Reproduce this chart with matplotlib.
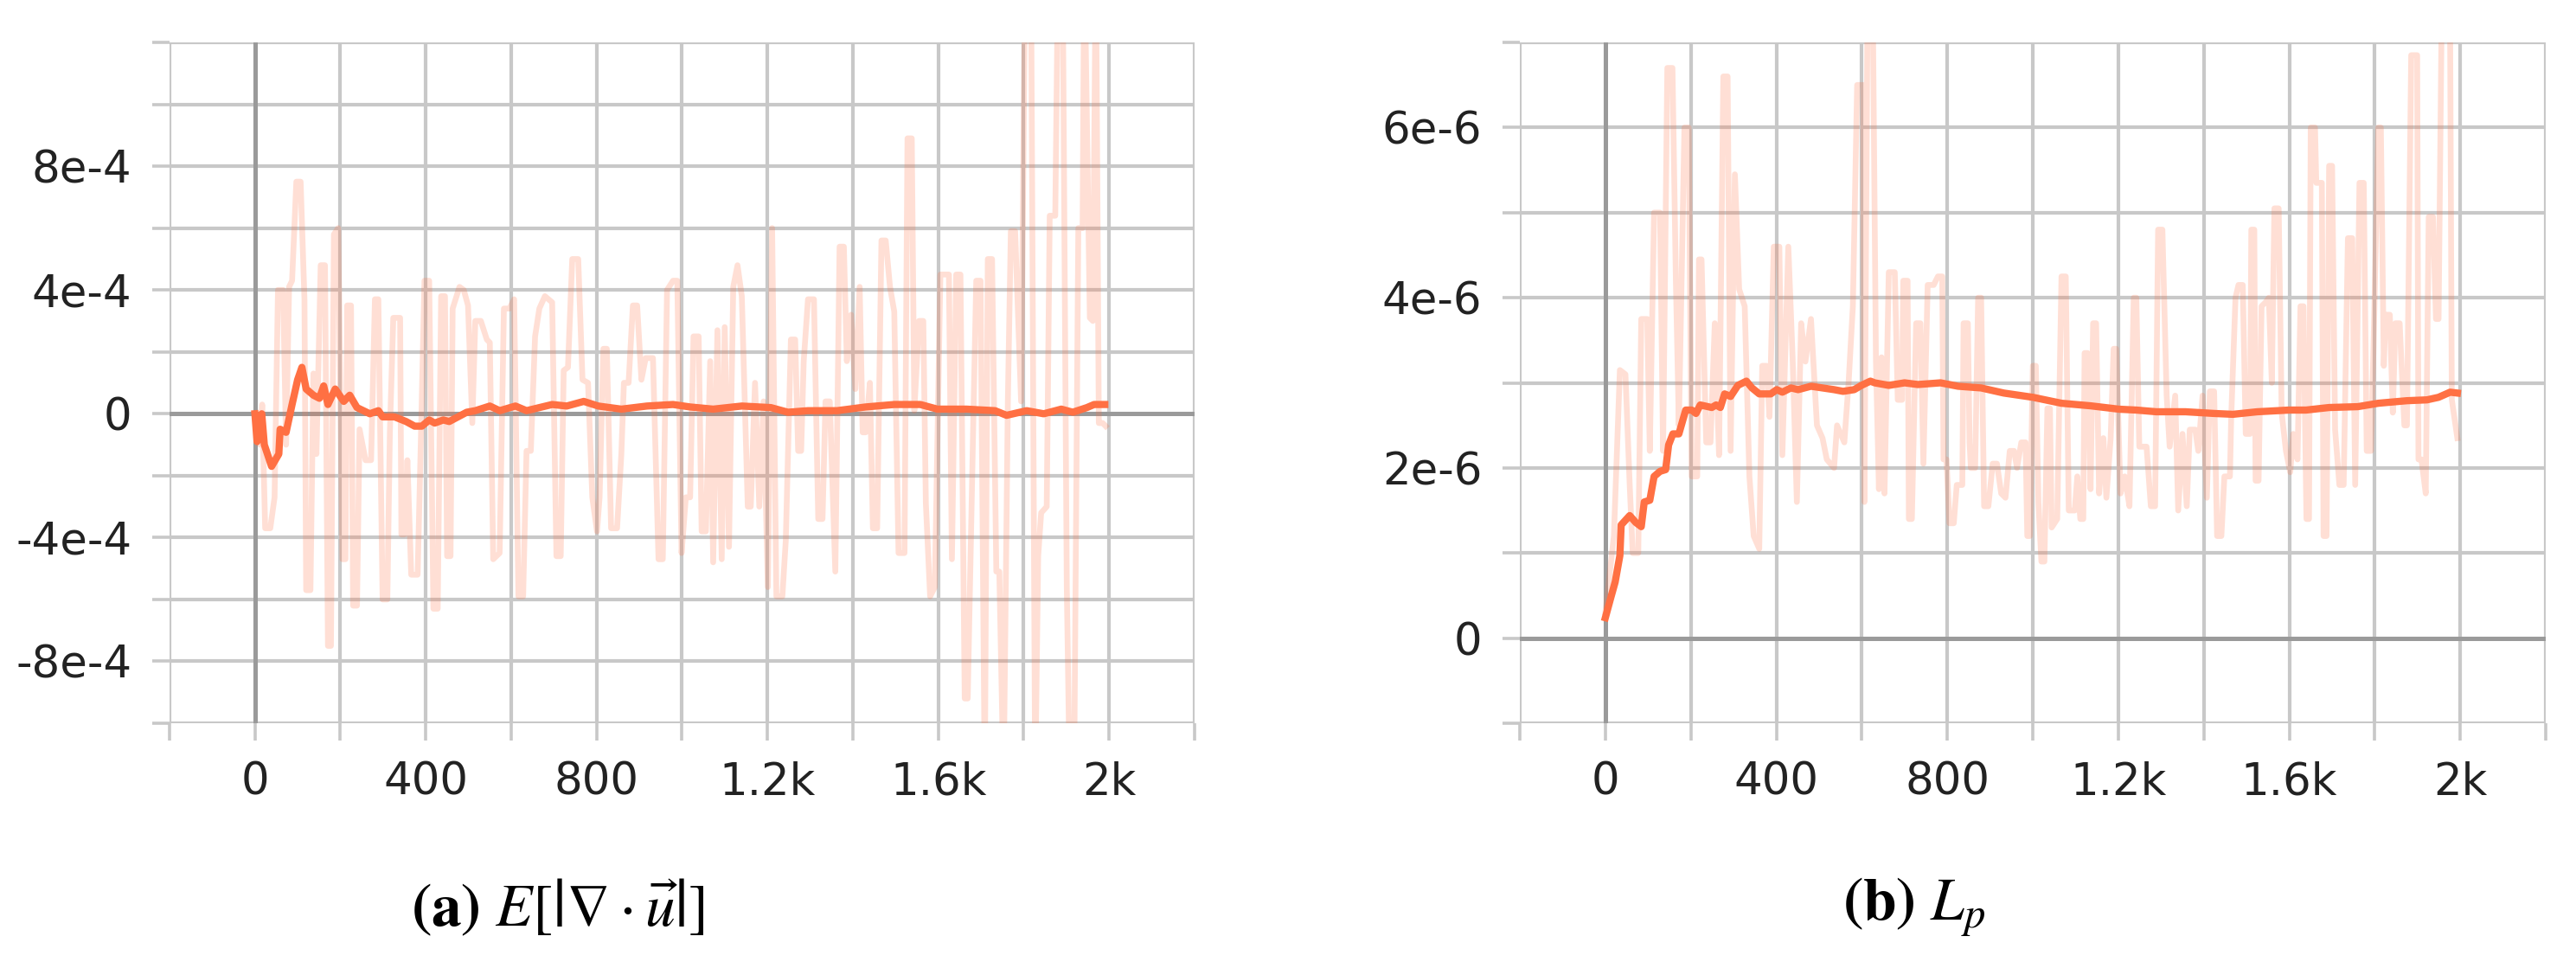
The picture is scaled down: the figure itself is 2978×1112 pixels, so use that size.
import matplotlib
matplotlib.use("Agg")
import matplotlib.pyplot as plt
from matplotlib.ticker import MultipleLocator

plt.rcParams['font.family'] = ['DejaVu Sans']
plt.rcParams['mathtext.fontset'] = 'stix'

# (a) divergence -- values in units of 1e-4
div_raw_steps = [0, 12, 17, 24, 36, 46, 54, 66, 73, 80, 87, 97, 107, 116, 120, 130, 137, 144, 154, 164,
                 171, 178, 185, 195, 205, 212, 216, 225, 230, 239, 245, 259, 272, 281, 289, 299, 310, 316, 324, 340,
                 343, 350, 357, 366, 381, 389, 397, 408, 418, 428, 436, 445, 450, 458, 463, 479, 489, 499, 509, 516,
                 529, 543, 550, 558, 573, 583, 596, 607, 617, 628, 636, 646, 656, 666, 679, 696, 706, 716, 723, 733,
                 743, 757, 767, 780, 790, 801, 807, 816, 824, 834, 848, 858, 864, 875, 885, 895, 905, 915, 932, 945,
                 955, 965, 979, 989, 999, 1009, 1019, 1027, 1039, 1046, 1056, 1066, 1073, 1083, 1093, 1100, 1110, 1120, 1130, 1140,
                 1154, 1161, 1171, 1181, 1191, 1201, 1211, 1221, 1235, 1243, 1255, 1265, 1272, 1279, 1285, 1295, 1309, 1319, 1329, 1336,
                 1346, 1359, 1369, 1379, 1386, 1396, 1406, 1416, 1423, 1430, 1440, 1447, 1457, 1467, 1477, 1487, 1497, 1507, 1521, 1528,
                 1538, 1544, 1555, 1565, 1571, 1581, 1592, 1605, 1625, 1632, 1642, 1652, 1662, 1669, 1682, 1689, 1699, 1709, 1716, 1726,
                 1736, 1743, 1753, 1763, 1770, 1780, 1794, 1804, 1817, 1827, 1834, 1841, 1854, 1861, 1874, 1881, 1891, 1901, 1908, 1918,
                 1928, 1938, 1942, 1955, 1962, 1969, 1976, 1985, 1992]
div_raw_vals = [0, -1.0, 0.3, -3.7, -3.7, -2.7, 4.0, 4.0, -1.0, 4.1, 4.3, 7.5, 7.5, 3.7, -5.7, -5.7, 1.3, -1.3, 4.8, 4.8,
                -7.5, -7.5, 5.8, 6.0, -4.7, -4.7, 3.5, 3.5, -6.2, -6.2, -0.5, -1.5, -1.5, 3.7, 3.7, -6.0, -6.0, -0.6, 3.1, 3.1,
                -3.9, -3.9, -1.5, -5.2, -5.2, -0.6, 4.3, 4.3, -6.3, -6.3, 3.8, 3.8, -4.6, -4.6, 3.4, 4.1, 4.0, 3.5, -0.3, 3.0,
                3.0, 2.4, 2.3, -4.7, -4.5, 3.4, 3.4, 3.7, -5.9, -5.9, -1.2, -1.2, 2.5, 3.4, 3.8, 3.6, -4.6, -4.6, 1.4, 1.5,
                5.0, 5.0, 1.1, 1.0, -2.7, -3.8, -2.7, 2.1, 2.1, -3.7, -3.7, -1.3, 1.0, 1.0, 3.5, 3.5, 1.1, 1.8, 1.8, -4.7,
                -4.7, 4.0, 4.3, 4.3, -4.5, -2.7, -2.7, 2.5, 2.5, -3.8, -3.8, 1.7, -4.8, 2.7, -4.7, 2.8, -4.3, 4.1, 4.8, 3.8,
                -3.0, -3.0, 1.0, -3.0, 0.4, -5.6, 6.0, -5.9, -5.9, -4.1, 2.4, 2.4, -1.2, -1.2, 1.7, 3.7, 3.7, -3.4, -3.4, 0.4,
                0.4, -5.1, 5.4, 5.4, 1.7, 3.2, 0.8, 4.1, -0.6, -0.6, 1.0, -3.7, -3.7, 5.6, 5.6, 4.1, 3.3, -4.5, -4.5, 8.9,
                8.9, 0.1, 3.0, 3.0, -2.9, -5.9, -5.6, 4.5, 4.5, -4.7, 4.5, 4.5, -9.2, -9.2, -0.3, 4.3, 4.3, -12, 5.0, 5.0,
                -5.1, -5.1, -12, 0.4, 5.9, 5.9, 0.4, 15, 15, -12, -4.6, -3.2, -3.0, 6.4, 6.4, 15, 15, -5.6, -12, -12,
                6.0, 6.0, 15, 3.1, 3.0, 15, -0.3, -0.3, -0.4]
div_smooth_steps = [0, 5, 16, 22, 39, 56, 59, 73, 87, 100, 110, 120, 137, 151, 161, 171, 188, 208, 222, 239,
                    269, 289, 299, 327, 354, 374, 391, 408, 421, 441, 455, 496, 516, 550, 573, 610, 636, 696, 730, 770,
                    804, 858, 918, 979, 1019, 1073, 1140, 1208, 1248, 1295, 1363, 1430, 1497, 1558, 1598, 1666, 1733, 1760, 1807, 1847,
                    1888, 1915, 1948, 1965, 1990]
div_smooth_vals = [0, -0.9, 0, -1.0, -1.7, -1.3, -0.5, -0.6, 0.3, 1.1, 1.5, 0.8, 0.6, 0.5, 0.9, 0.3, 0.8, 0.4, 0.6, 0.2,
                   0.0, 0.1, -0.1, -0.1, -0.25, -0.4, -0.4, -0.2, -0.3, -0.2, -0.25, 0.05, 0.1, 0.25, 0.1, 0.25, 0.1, 0.3, 0.25, 0.4,
                   0.25, 0.15, 0.25, 0.3, 0.22, 0.15, 0.25, 0.2, 0.05, 0.1, 0.1, 0.22, 0.3, 0.3, 0.15, 0.15, 0.1, -0.05, 0.1, 0.0,
                   0.15, 0.05, 0.2, 0.3, 0.3]
div_unit = 1e-4

# (b) L_p -- values in units of 1e-6
lp_raw_steps = [0, 20, 34, 47, 57, 64, 77, 84, 98, 104, 114, 128, 135, 145, 157, 165, 172, 185, 195, 202,
                215, 219, 225, 236, 246, 256, 266, 276, 286, 293, 303, 313, 326, 337, 347, 360, 367, 377, 384, 394,
                407, 414, 428, 438, 448, 458, 468, 481, 495, 508, 518, 535, 542, 559, 569, 579, 589, 603, 606, 613,
                626, 633, 640, 646, 653, 663, 677, 684, 694, 697, 707, 710, 717, 727, 737, 744, 754, 768, 778, 788,
                791, 798, 805, 815, 822, 835, 838, 848, 852, 855, 865, 872, 879, 886, 896, 906, 916, 926, 936, 946,
                956, 963, 973, 983, 987, 993, 1000, 1007, 1013, 1020, 1027, 1034, 1040, 1044, 1057, 1067, 1077, 1084, 1098, 1104,
                1111, 1118, 1121, 1128, 1135, 1141, 1148, 1155, 1165, 1172, 1182, 1189, 1195, 1205, 1215, 1226, 1236, 1242, 1249, 1266,
                1276, 1286, 1293, 1303, 1313, 1320, 1333, 1340, 1350, 1360, 1367, 1380, 1387, 1397, 1407, 1414, 1424, 1431, 1441, 1448,
                1461, 1464, 1474, 1481, 1491, 1498, 1508, 1511, 1518, 1521, 1528, 1535, 1545, 1552, 1559, 1565, 1575, 1582, 1592, 1602,
                1609, 1619, 1626, 1633, 1640, 1646, 1650, 1660, 1663, 1676, 1680, 1687, 1693, 1700, 1707, 1717, 1727, 1737, 1747, 1754,
                1764, 1774, 1781, 1791, 1797, 1808, 1814, 1821, 1825, 1835, 1842, 1848, 1858, 1869, 1875, 1885, 1899, 1902, 1909, 1919,
                1926, 1936, 1943, 1949, 1956, 1976, 1980, 1993]
lp_raw_vals = [0.3, 1.2, 3.15, 3.1, 1.8, 1.0, 1.0, 3.75, 3.75, 2.2, 5.0, 5.0, 2.2, 6.7, 6.7, 4.2, 2.5, 6.0, 6.0, 1.9,
               1.9, 4.45, 4.45, 2.3, 2.3, 3.7, 2.15, 6.6, 6.6, 2.2, 5.45, 4.1, 3.9, 1.9, 1.2, 1.05, 3.2, 3.2, 2.6, 4.6,
               4.6, 2.15, 4.6, 3.3, 1.6, 3.7, 3.25, 3.75, 2.5, 2.35, 2.1, 2.0, 2.5, 2.3, 3.0, 3.9, 6.5, 6.5, 1.6, 7.2,
               7.2, 3.25, 1.75, 3.3, 1.7, 4.3, 4.3, 2.8, 2.8, 4.2, 4.2, 1.4, 1.4, 3.7, 3.7, 2.05, 4.15, 4.15, 4.25, 4.25,
               2.1, 2.1, 1.35, 1.35, 1.8, 1.8, 3.7, 3.7, 2.3, 2.0, 2.0, 4.0, 4.0, 1.55, 1.55, 2.05, 2.05, 1.7, 1.65, 2.2,
               2.2, 2.0, 2.3, 2.3, 1.2, 1.2, 3.2, 3.2, 1.6, 0.9, 0.9, 2.7, 2.7, 1.3, 1.4, 4.25, 4.25, 1.5, 1.5, 1.9,
               1.4, 1.4, 3.35, 3.35, 1.75, 3.7, 3.7, 1.7, 2.35, 1.65, 2.35, 3.4, 3.4, 1.7, 1.9, 1.55, 4.0, 4.0, 2.25, 2.25,
               1.55, 1.55, 4.8, 4.8, 2.85, 2.25, 2.85, 1.5, 2.4, 1.55, 2.45, 2.45, 2.2, 2.85, 1.65, 2.9, 2.9, 1.2, 1.2, 1.9,
               1.9, 2.6, 4.0, 4.15, 4.15, 2.4, 2.4, 4.8, 4.8, 1.85, 1.85, 3.9, 3.95, 4.0, 3.0, 5.05, 5.05, 2.65, 2.2, 1.95,
               2.4, 2.1, 3.9, 3.9, 1.4, 1.4, 6.0, 6.0, 5.35, 5.35, 1.2, 1.2, 5.55, 5.55, 2.45, 1.8, 1.8, 4.7, 4.7, 1.8,
               5.35, 5.35, 2.2, 2.2, 3.45, 6.0, 6.0, 3.2, 3.8, 3.8, 2.65, 3.7, 3.7, 2.5, 2.5, 6.85, 6.85, 2.1, 2.1, 1.7,
               4.95, 4.95, 3.75, 3.75, 7.2, 7.2, 2.8, 2.35]
lp_smooth_steps = [0, 13, 23, 34, 37, 57, 71, 84, 91, 104, 114, 128, 141, 148, 158, 172, 188, 202, 212, 222,
                   249, 259, 269, 279, 293, 310, 330, 343, 360, 387, 401, 414, 434, 451, 481, 508, 535, 556, 582, 599,
                   620, 630, 663, 700, 731, 784, 825, 879, 932, 1000, 1067, 1135, 1202, 1242, 1289, 1357, 1424, 1468, 1525, 1599,
                   1639, 1693, 1760, 1808, 1875, 1922, 1949, 1976, 1993]
lp_smooth_vals = [0.24, 0.48, 0.66, 0.97, 1.33, 1.44, 1.36, 1.31, 1.6, 1.62, 1.9, 1.96, 1.98, 2.27, 2.4, 2.4, 2.68, 2.68, 2.64, 2.74,
                  2.71, 2.74, 2.71, 2.87, 2.84, 2.97, 3.02, 2.94, 2.87, 2.87, 2.92, 2.89, 2.94, 2.92, 2.96, 2.94, 2.92, 2.9, 2.92, 2.97,
                  3.02, 3.0, 2.97, 3.0, 2.98, 3.0, 2.96, 2.94, 2.88, 2.83, 2.76, 2.73, 2.69, 2.68, 2.66, 2.66, 2.64, 2.63, 2.66, 2.68,
                  2.68, 2.71, 2.72, 2.76, 2.79, 2.8, 2.83, 2.89, 2.88]
lp_unit = 1e-6

x_ticks = [0, 400, 800, 1200, 1600, 2000]
x_labels = ['0', '400', '800', '1.2k', '1.6k', '2k']
div_yticks = [-8e-4, -4e-4, 0, 4e-4, 8e-4]
div_ylabels = ['-8e-4', '-4e-4', '0', '4e-4', '8e-4']
lp_yticks = [0, 2e-6, 4e-6, 6e-6]
lp_ylabels = ['0', '2e-6', '4e-6', '6e-6']

orange = '#ff7043'
grid_col = '#c8c8c8'

fig = plt.figure(figsize=(29.78, 11.12), dpi=100)
ax1 = fig.add_axes([0.0658, 0.2482, 0.3979, 0.7077])
ax2 = fig.add_axes([0.5900, 0.2482, 0.3983, 0.7077])


def style(ax, ylim, ystep, yticks, ylabels):
    ax.set_xlim(-200, 2200)
    ax.set_ylim(*ylim)
    ax.set_xticks(x_ticks)
    ax.set_xticklabels(x_labels)
    ax.xaxis.set_minor_locator(MultipleLocator(200))
    ax.set_yticks(yticks)
    ax.set_yticklabels(ylabels)
    ax.yaxis.set_minor_locator(MultipleLocator(ystep))
    ax.grid(which='both', color=grid_col, lw=3, zorder=0)
    ax.axhline(0, color='#9a9a9a', lw=3.6, zorder=1)
    ax.axvline(0, color='#9a9a9a', lw=3.6, zorder=1)
    for s in ax.spines.values():
        s.set_visible(False)
    ax.tick_params(which='both', length=14.5, width=2.6, color=grid_col,
                   labelsize=37, labelcolor='#222222', pad=17)
    ax.set_axisbelow(True)


ax1.plot(div_raw_steps, [v * div_unit for v in div_raw_vals], color=orange, alpha=0.22, lw=4.8, zorder=2)
ax1.plot(div_smooth_steps, [v * div_unit for v in div_smooth_vals], color=orange, lw=6, zorder=3)
style(ax1, (-1e-3, 1.2e-3), 2e-4, div_yticks, div_ylabels)

ax2.plot(lp_raw_steps, [v * lp_unit for v in lp_raw_vals], color=orange, alpha=0.22, lw=4.8, zorder=2)
ax2.plot(lp_smooth_steps, [v * lp_unit for v in lp_smooth_vals], color=orange, lw=6, zorder=3)
style(ax2, (-1e-6, 7e-6), 1e-6, lp_yticks, lp_ylabels)

# sub-captions
fig.text(645 / 2978, 1 - 1049 / 1112, r'$\mathbf{(a)}\ E\left[\left|\nabla\cdot\vec{u}\right|\right]$',
         ha='center', va='center', fontsize=50)
fig.text(2213 / 2978, 1 - 1049 / 1112, r'$\mathbf{(b)}\ L_p$',
         ha='center', va='center', fontsize=50)

fig.savefig('out.png', dpi=100)
